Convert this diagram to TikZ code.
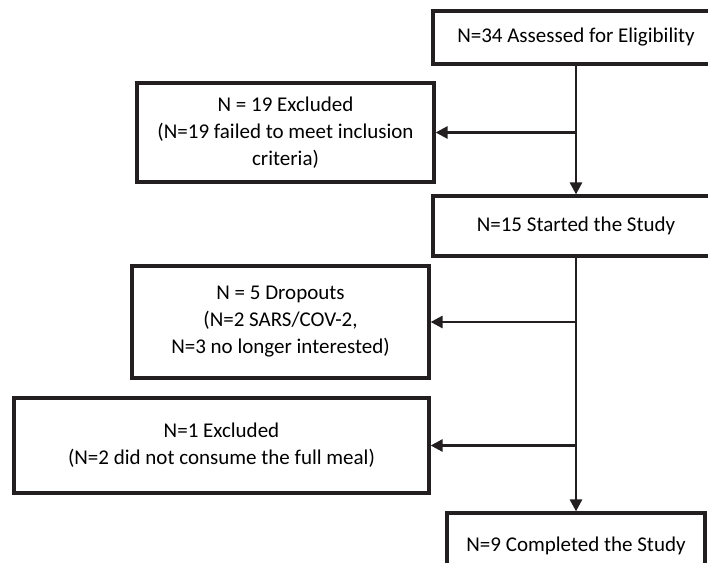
\documentclass[tikz,border=0pt]{standalone}
\usepackage{fontspec}
\setmainfont{Carlito}
\usepackage{xcolor}
\usetikzlibrary{positioning, arrows.meta}

\definecolor{FlowGrey}{HTML}{231F20}

\begin{document}
\begin{tikzpicture}[x=1bp, y=-1bp,
				FlowBox/.style={rectangle, draw=FlowGrey, line width=3.2bp, fill=white, align=center, inner sep=0pt, font=\fontsize{21bp}{27bp}\selectfont},
				FlowArrow/.style={draw=FlowGrey, line width=2.7bp, -{Triangle[length=12bp, width=12bp]}}]

			\useasboundingbox (0,0) rectangle (708,563);
			\clip (0,0) rectangle (708,563);

			% Nodes
			\node[FlowBox, minimum width=286bp, minimum height=53bp] (AssessNode) at (576, 37.5) {N=34 Assessed for Eligibility};
			\node[FlowBox, minimum width=297bp, minimum height=99bp] (ExclNode) at (285.5, 132.5) {N = 19 Excluded\\(N=19 failed to meet inclusion\\criteria)};
			\node[FlowBox, minimum width=286bp, minimum height=60bp] (StartNode) at (576, 226) {N=15 Started the Study};
			\node[FlowBox, minimum width=297bp, minimum height=112bp] (DropNode) at (280.5, 322) {N = 5 Dropouts\\(N=2 SARS/COV-2,\\N=3 no longer interested)};
			\node[FlowBox, minimum width=415bp, minimum height=95bp] (MealNode) at (221.5, 445.5) {N=1 Excluded\\(N=2 did not consume the full meal)};
			\node[FlowBox, minimum width=258bp, minimum height=66bp] (DoneNode) at (576, 546) {N=9 Completed the Study};

			\coordinate (ExclSplit) at (AssessNode.south |- ExclNode.east);
			\coordinate (DropSplit) at (StartNode.south |- DropNode.east);
			\coordinate (MealSplit) at (StartNode.south |- MealNode.east);

			% Lines
			\draw[FlowArrow] (AssessNode) to (StartNode);
			\draw[FlowArrow] (ExclSplit) to (ExclNode);
			\draw[FlowArrow] (StartNode) to (DoneNode);
			\draw[FlowArrow] (DropSplit) to (DropNode);
			\draw[FlowArrow] (MealSplit) to (MealNode);
		\end{tikzpicture}
\end{document}
